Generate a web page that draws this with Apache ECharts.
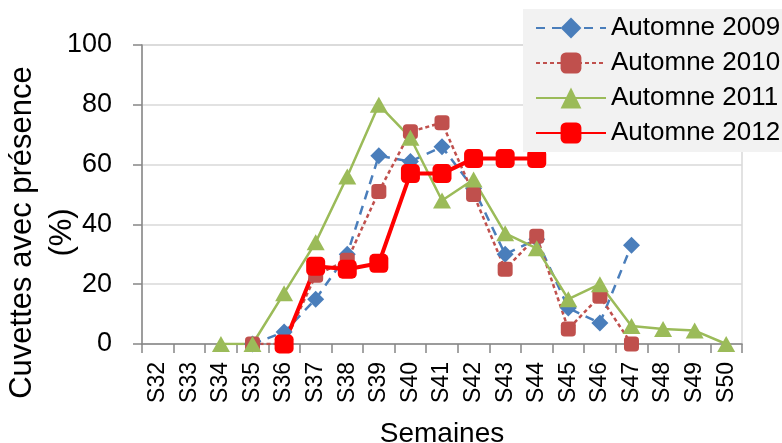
<!DOCTYPE html>
<html>
<head>
<meta charset="utf-8">
<script src="https://cdn.jsdelivr.net/npm/echarts@6/dist/echarts.min.js"></script>
<style>
html,body{margin:0;padding:0;background:#fff;}
#chart{width:782px;height:443px;}
</style>
</head>
<body>
<div id="chart"></div>
<script>
const categories = ['S32','S33','S34','S35','S36','S37','S38','S39','S40','S41','S42','S43','S44','S45','S46','S47','S48','S49','S50'];
const yTicks = [0, 20, 40, 60, 80, 100];
const seriesNames = ['Automne 2009', 'Automne 2010', 'Automne 2011', 'Automne 2012'];
const automne2009 = [null, null, null, 0, 4, 15, 30, 63, 61, 66, 52, 30, 35, 12, 7, 33, null, null, null];
const automne2010 = [null, null, null, 0, 0, 23, 28, 51, 71, 74, 50, 25, 36, 5, 16, 0, null, null, null];
const automne2011 = [null, null, 0, 0, 17, 34, 56, 80, 69, 48, 55, 37, 32, 15, 20, 6, 5, 4.5, 0];
const automne2012 = [null, null, null, null, 0, 26, 25, 27, 57, 57, 62, 62, 62, null, null, null, null, null, null];

const FONT = '"Liberation Sans", Arial, sans-serif';
const chart = echarts.init(document.getElementById('chart'), null, {renderer: 'canvas'});
chart.setOption({
  animation: false,
  backgroundColor: '#ffffff',
  textStyle: {fontFamily: FONT, color: '#000'},
  grid: {left: 142, right: 40, top: 45, bottom: 99, show: true, borderColor: '#d9d9d9', borderWidth: 1.5, containLabel: false, outerBoundsMode: 'none'},
  legend: {
    left: 523, top: 9,
    orient: 'vertical',
    backgroundColor: '#f2f2f2',
    padding: [6, 20, 6, 12],
    itemWidth: 70, itemHeight: 26, itemGap: 9,
    textStyle: {fontFamily: FONT, fontSize: 26, color: '#000'},
    data: seriesNames
  },
  xAxis: {
    type: 'category',
    data: categories,
    boundaryGap: true,
    name: 'Semaines',
    nameLocation: 'middle',
    nameGap: 76,
    nameMoveOverlap: false,
    nameTextStyle: {fontFamily: FONT, fontSize: 28, color: '#000'},
    axisLine: {lineStyle: {color: '#868686', width: 1.5}},
    axisTick: {show: true, alignWithLabel: false, length: 9, lineStyle: {color: '#868686', width: 1.5}},
    axisLabel: {rotate: 90, margin: 18, fontFamily: FONT, fontSize: 23, color: '#000', interval: 0},
    splitLine: {show: false}
  },
  yAxis: {
    type: 'value',
    min: yTicks[0], max: yTicks[yTicks.length - 1], interval: 20,
    name: 'Cuvettes avec présence\n(%)',
    nameLocation: 'middle',
    nameGap: 60,
    nameMoveOverlap: false,
    nameTextStyle: {fontFamily: FONT, fontSize: 31, color: '#000', lineHeight: 40, padding: [0, 76, 0, 0]},
    axisLine: {show: true, lineStyle: {color: '#868686', width: 1.5}},
    axisTick: {show: true, length: 9, lineStyle: {color: '#868686', width: 1.5}},
    axisLabel: {margin: 30, fontFamily: FONT, fontSize: 27, color: '#000'},
    splitLine: {show: true, lineStyle: {color: '#d9d9d9', width: 1.5}}
  },
  series: [
    {
      name: seriesNames[0], type: 'line', data: automne2009,
      symbol: 'diamond', symbolSize: 17,
      itemStyle: {color: '#4a7ebb'},
      lineStyle: {color: '#4a7ebb', width: 2.5, type: [9, 7]},
      connectNulls: false, emphasis: {disabled: true}
    },
    {
      name: seriesNames[1], type: 'line', data: automne2010,
      symbol: 'roundRect', symbolSize: 15,
      itemStyle: {color: '#c0504d'},
      lineStyle: {color: '#c0504d', width: 2.5, type: [4, 3]},
      emphasis: {disabled: true}
    },
    {
      name: seriesNames[2], type: 'line', data: automne2011,
      symbol: 'triangle', symbolSize: [18, 16],
      itemStyle: {color: '#9bbb59'},
      lineStyle: {color: '#9bbb59', width: 2.5},
      emphasis: {disabled: true}
    },
    {
      name: seriesNames[3], type: 'line', data: automne2012,
      symbol: 'roundRect', symbolSize: 19,
      itemStyle: {color: '#ff0000'},
      lineStyle: {color: '#ff0000', width: 4},
      emphasis: {disabled: true}
    }
  ]
});
</script>
</body>
</html>
